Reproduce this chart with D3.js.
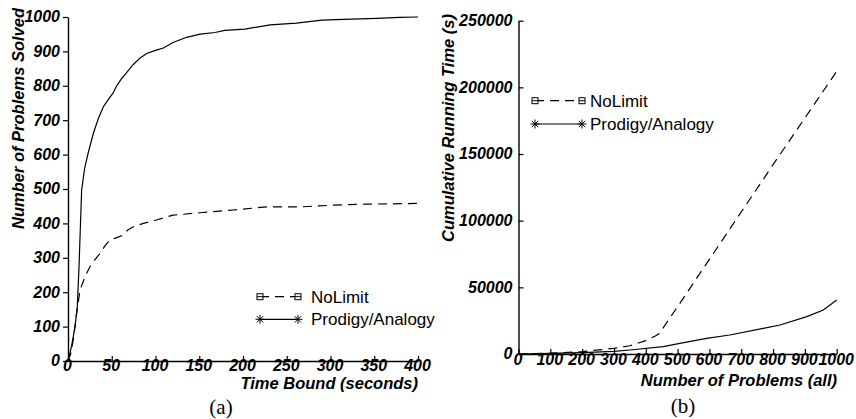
<!DOCTYPE html>
<html>
<head>
<meta charset="utf-8">
<script src="https://cdn.jsdelivr.net/npm/d3@7"></script>
<style>
  body { margin: 0; background: #fff; }
  text { font-family: "Liberation Sans", Arial, sans-serif; }
  .tick text { font-family: "Liberation Sans", Arial, sans-serif; font-weight: bold; font-style: italic; font-size: 16px; }
  .title { font-weight: bold; font-style: italic; font-size: 16.5px; }
  .legend { font-size: 17px; }
  .cap { font-family: "Liberation Serif", "DejaVu Serif", serif; font-size: 21px; }
</style>
</head>
<body>
<div id="chart"></div>
<script>
(function() {
  var width = 856,
    height = 419;

  // (a) problems solved vs time bound
  var timeTicks = [0, 50, 100, 150, 200, 250, 300, 350, 400];
  var solvedTicks = [0, 100, 200, 300, 400, 500, 600, 700, 800, 900, 1000];
  var prodigyTime = [0, 4, 8, 10.6, 12.6, 14, 15.6, 19, 23, 29, 34.7, 40.4, 46, 51.8, 55.6, 61, 67, 74.7, 82, 90, 100, 109, 120, 135.6, 151, 168, 179, 202, 231, 261, 290, 315, 353, 379, 400];
  var prodigySolved = [0, 42, 100, 158, 274, 380, 497, 560, 604, 662, 705, 739, 760, 780, 800, 820, 838, 862, 880, 894, 903, 910, 926, 941, 950, 955, 961, 965, 977, 982, 991, 993, 996, 999, 1000];
  var nolimitTime = [0, 3, 6, 9.9, 13.7, 19.4, 25, 30, 36.6, 42, 48, 55, 63, 68, 74.7, 86, 101, 120, 151, 189, 227, 265, 303, 341, 400];
  var nolimitSolved = [0, 20, 61, 138, 206, 245, 274, 292, 313, 334, 352, 358, 366, 380, 390, 400, 410, 424, 431, 439, 448, 448, 453, 456, 458];

  // (b) cumulative running time vs number of problems
  var probTicks = [0, 100, 200, 300, 400, 500, 600, 700, 800, 900, 1000];
  var runTicks = [0, 50000, 100000, 150000, 200000, 250000];
  var nolimitProbs = [0, 100, 200, 300, 350, 400, 430, 440, 450, 500, 600, 700, 800, 900, 1000];
  var nolimitRun = [0, 600, 1800, 4200, 6200, 10000, 13500, 15000, 18000, 35500, 71000, 106500, 142000, 177000, 212000];
  var prodigyProbs = [0, 100, 200, 300, 350, 455, 507, 591, 664, 769, 822, 906, 958, 1000];
  var prodigyRun = [0, 400, 1000, 2000, 3000, 5500, 8000, 11750, 14250, 19250, 21750, 28000, 33000, 40500];

  var seriesNames = ["NoLimit", "Prodigy/Analogy"];

  var svg = d3.select("#chart")
    .append("svg")
    .attr("width", width)
    .attr("height", height)
    .style("background", "#fff");

  function zip(xs, ys) {
    return xs.map(function(x, i) { return [x, ys[i]]; });
  }

  function asterisk(g, x, y) {
    var r = 4.5;
    [0, 45, 90, 135].forEach(function(a) {
      var rad = a * Math.PI / 180;
      g.append("line")
        .attr("x1", x - r * Math.cos(rad)).attr("y1", y - r * Math.sin(rad))
        .attr("x2", x + r * Math.cos(rad)).attr("y2", y + r * Math.sin(rad))
        .attr("stroke", "#000").attr("stroke-width", 1);
    });
  }

  function square(g, x, y) {
    g.append("rect")
      .attr("x", x - 3).attr("y", y - 3)
      .attr("width", 6).attr("height", 6)
      .attr("fill", "#fff").attr("stroke", "#000").attr("stroke-width", 1);
    g.append("line")
      .attr("x1", x - 3).attr("x2", x + 3)
      .attr("y1", y).attr("y2", y)
      .attr("stroke", "#000").attr("stroke-width", 1);
  }

  function legend(g, x0, x1, tx, y0, y1) {
    g.append("line")
      .attr("x1", x0).attr("x2", x1).attr("y1", y0).attr("y2", y0)
      .attr("stroke", "#000").attr("stroke-width", 1.2)
      .attr("stroke-dasharray", "9,6");
    square(g, x0, y0);
    square(g, x1, y0);
    g.append("text").attr("class", "legend")
      .attr("x", tx).attr("y", y0).attr("dy", "0.36em")
      .text(seriesNames[0]);

    g.append("line")
      .attr("x1", x0).attr("x2", x1).attr("y1", y1).attr("y2", y1)
      .attr("stroke", "#000").attr("stroke-width", 1.2);
    asterisk(g, x0, y1);
    asterisk(g, x1, y1);
    g.append("text").attr("class", "legend")
      .attr("x", tx).attr("y", y1).attr("dy", "0.36em")
      .text(seriesNames[1]);
  }

  function styleAxis(g) {
    g.select(".domain").attr("stroke-width", 1.4);
    g.selectAll(".tick line").attr("stroke-width", 1.2);
  }

  var fmt = d3.format("d");

  // ---------- chart (a) ----------
  var xA = d3.scaleLinear().domain([0, 400]).range([68, 418]);
  var yA = d3.scaleLinear().domain([0, 1000]).range([361, 17]);

  var gA = svg.append("g");

  gA.append("g")
    .attr("transform", "translate(0," + yA(0) + ")")
    .call(d3.axisBottom(xA).tickValues(timeTicks).tickFormat(fmt).tickSize(-5).tickSizeOuter(0).tickPadding(0))
    .call(styleAxis)
    .selectAll(".tick text").attr("dy", "0.64em").attr("dx", "-1");

  gA.append("g")
    .attr("transform", "translate(" + xA(0) + ",0)")
    .call(d3.axisLeft(yA).tickValues(solvedTicks).tickFormat(fmt).tickSize(5).tickSizeOuter(0).tickPadding(3))
    .call(styleAxis)
    .selectAll(".tick text").attr("dy", "0.3em");

  var lineA = d3.line()
    .x(function(d) { return xA(d[0]); })
    .y(function(d) { return yA(d[1]); });

  gA.append("path")
    .datum(zip(nolimitTime, nolimitSolved))
    .attr("d", lineA)
    .attr("fill", "none").attr("stroke", "#000").attr("stroke-width", 1.2)
    .attr("stroke-dasharray", "9,6");

  gA.append("path")
    .datum(zip(prodigyTime, prodigySolved))
    .attr("d", lineA)
    .attr("fill", "none").attr("stroke", "#000").attr("stroke-width", 1.2);

  gA.append("text").attr("class", "title")
    .attr("x", 418).attr("y", 389)
    .attr("text-anchor", "end")
    .text("Time Bound (seconds)");

  gA.append("text").attr("class", "title")
    .attr("transform", "translate(24,8) rotate(-90)")
    .attr("text-anchor", "end")
    .text("Number of Problems Solved");

  legend(gA, 260, 298, 311, 296.7, 319.3);

  gA.append("text").attr("class", "cap")
    .attr("x", 221).attr("y", 414)
    .attr("text-anchor", "middle")
    .text("(a)");

  // ---------- chart (b) ----------
  var xB = d3.scaleLinear().domain([0, 1000]).range([518.5, 836.7]);
  var yB = d3.scaleLinear().domain([0, 250000]).range([354, 20.7]);

  var gB = svg.append("g");

  gB.append("g")
    .attr("transform", "translate(0," + yB(0) + ")")
    .call(d3.axisBottom(xB).tickValues(probTicks).tickFormat(fmt).tickSize(-5).tickSizeOuter(0).tickPadding(0))
    .call(styleAxis)
    .selectAll(".tick text").attr("dy", "0.66em").attr("dx", "-1");

  gB.append("g")
    .attr("transform", "translate(" + xB(0) + ",0)")
    .call(d3.axisLeft(yB).tickValues(runTicks).tickFormat(fmt).tickSize(-5).tickSizeOuter(0).tickPadding(6))
    .call(styleAxis)
    .selectAll(".tick text").attr("dy", "0.3em");

  var lineB = d3.line()
    .x(function(d) { return xB(d[0]); })
    .y(function(d) { return yB(d[1]); });

  gB.append("path")
    .datum(zip(nolimitProbs, nolimitRun))
    .attr("d", lineB)
    .attr("fill", "none").attr("stroke", "#000").attr("stroke-width", 1.2)
    .attr("stroke-dasharray", "9,6");

  gB.append("path")
    .datum(zip(prodigyProbs, prodigyRun))
    .attr("d", lineB)
    .attr("fill", "none").attr("stroke", "#000").attr("stroke-width", 1.2);

  gB.append("text").attr("class", "title")
    .attr("x", 837).attr("y", 386)
    .attr("text-anchor", "end")
    .text("Number of Problems (all)");

  gB.append("text").attr("class", "title")
    .attr("transform", "translate(454,14) rotate(-90)")
    .attr("text-anchor", "end")
    .text("Cumulative Running Time (s)");

  legend(gB, 535, 582, 590, 100.7, 124);

  gB.append("text").attr("class", "cap")
    .attr("x", 683).attr("y", 413)
    .attr("text-anchor", "middle")
    .text("(b)");
})();
</script>
</body>
</html>
